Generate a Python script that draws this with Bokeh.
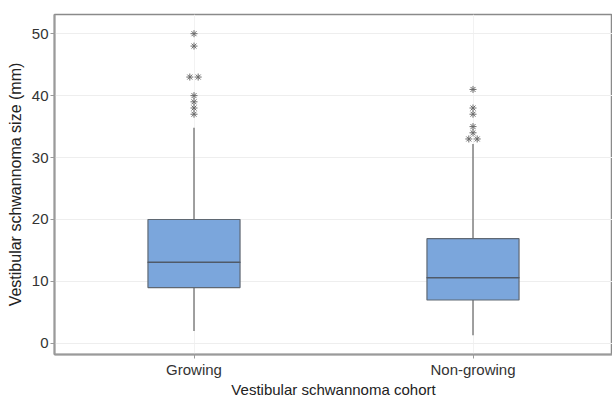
from bokeh.plotting import figure
from bokeh.models import FactorRange, Range1d, ColumnDataSource, FixedTicker
from bokeh.embed import file_html
from bokeh.resources import INLINE

categories = ["Growing", "Non-growing"]
q1 = [9.0, 7.0]
median = [13.1, 10.6]
q3 = [20.0, 16.9]
lower = [2.0, 1.3]
upper = [34.8, 32.2]
outliers = {
    "Growing": [50, 48, 43, 43, 40, 39, 38, 37],
    "Non-growing": [41, 38, 37, 35, 34, 33, 33],
}
y_ticks = [0, 10, 20, 30, 40, 50]

FONT = "Liberation Sans"
p = figure(x_range=FactorRange(factors=categories, range_padding=0),
           y_range=Range1d(-1.8, 53.1), width=612, height=400,
           output_backend="svg", toolbar_location=None,
           min_border_left=54, min_border_right=0, min_border_top=14, min_border_bottom=0)

src = ColumnDataSource(dict(cat=categories, q1=q1, med=median, q3=q3, lo=lower, hi=upper))
p.segment(x0="cat", y0="q3", x1="cat", y1="hi", source=src, line_color="#808080", line_width=1.5)
p.segment(x0="cat", y0="q1", x1="cat", y1="lo", source=src, line_color="#808080", line_width=1.5)
p.vbar(x="cat", bottom="q1", top="q3", width=0.33, source=src,
       fill_color="#7ba6dc", line_color="#5f6873", line_width=1.2)
p.rect(x="cat", y="med", width=0.33, height=0.001, source=src, line_color="#505a68", line_width=1.5,
       fill_alpha=0)

# outliers with small spread for duplicated values
ox, oy = [], []
for c in categories:
    vals = outliers[c]
    for v in sorted(set(vals), reverse=True):
        n = vals.count(v)
        for k in range(n):
            off = (k - (n - 1) / 2) * 0.03
            ox.append((c, off))
            oy.append(v)
p.scatter(x=ox, y=oy, marker="asterisk", size=7, line_color="#6a6a6a", line_width=1.0)

p.yaxis.ticker = FixedTicker(ticks=y_ticks)
p.ygrid.ticker = FixedTicker(ticks=y_ticks)
p.xgrid.grid_line_color = "#f2f2f2"
p.ygrid.grid_line_color = "#eeeeee"

for ax in (p.xaxis, p.yaxis):
    ax.axis_line_color = "#9a9a9a"
    ax.axis_line_width = 2
    ax.major_tick_line_color = "#9a9a9a"
    ax.major_tick_out = 4
    ax.major_tick_in = 0
    ax.minor_tick_line_color = None
    ax.major_label_text_font = FONT
    ax.major_label_text_font_size = "15px"
    ax.major_label_text_color = "#333333"
    ax.axis_label_text_font = FONT
    ax.axis_label_text_font_style = "normal"
    ax.axis_label_text_color = "#222222"

p.xaxis.axis_label_text_font_size = "15px"
p.yaxis.axis_label_text_font_size = "16px"
p.xaxis.axis_label = "Vestibular schwannoma cohort"
p.yaxis.axis_label = "Vestibular schwannoma size (mm)"
p.xaxis.major_label_standoff = 2
p.xaxis.axis_label_standoff = 0
p.yaxis.major_label_standoff = 2
p.yaxis.axis_label_standoff = 5

p.outline_line_color = "#8a8a8a"
p.outline_line_width = 1.5

open("out.html", "w").write(file_html(p, INLINE))
